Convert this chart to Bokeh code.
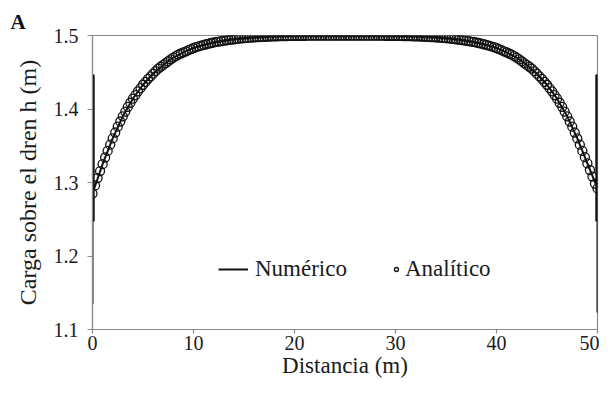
from bokeh.plotting import figure
from bokeh.models import Range1d, FixedTicker, Legend, LegendItem
from bokeh.embed import file_html
from bokeh.resources import INLINE
import numpy as np

# --- data ---
ana_x = list(np.arange(0, 50.001, 0.25))
ana_left = [1.2850, 1.2960, 1.3060, 1.3155, 1.3250, 1.3340, 1.3430, 1.3515, 1.3600, 1.3680,
            1.3760, 1.3830, 1.3900, 1.3965, 1.4030, 1.4085, 1.4140, 1.4190, 1.4240, 1.4285,
            1.4330, 1.4370, 1.4410, 1.4445, 1.4480, 1.4515, 1.4550, 1.4575, 1.4600, 1.4625,
            1.4650, 1.4675, 1.4700, 1.4720, 1.4740, 1.4755, 1.4770, 1.4785, 1.4800, 1.4815,
            1.4830, 1.4841, 1.4852, 1.4862, 1.4872, 1.4881, 1.4890, 1.4898, 1.4905, 1.4912,
            1.4918, 1.4924, 1.4930, 1.4935, 1.4940, 1.4945, 1.4949, 1.4953, 1.4957, 1.4961,
            1.4964, 1.4967, 1.4970, 1.4973, 1.4975, 1.4977, 1.4979, 1.4981, 1.4983, 1.4985,
            1.4986, 1.4988, 1.4989, 1.4990, 1.4991, 1.4992, 1.4993, 1.4993, 1.4994, 1.4994,
            1.4995, 1.4995, 1.4996, 1.4996, 1.4996, 1.4997, 1.4997, 1.4997, 1.4997, 1.4997,
            1.4998, 1.4998, 1.4998, 1.4998, 1.4998, 1.4998, 1.4998, 1.4998, 1.4998, 1.4998,
            1.4998]
ana_right = [1.4998, 1.4998, 1.4998, 1.4998, 1.4998, 1.4998, 1.4998, 1.4998, 1.4998, 1.4998,
             1.4997, 1.4997, 1.4997, 1.4997, 1.4997, 1.4996, 1.4996, 1.4996, 1.4995, 1.4995,
             1.4994, 1.4994, 1.4993, 1.4993, 1.4992, 1.4991, 1.4990, 1.4989, 1.4988, 1.4986,
             1.4985, 1.4983, 1.4981, 1.4979, 1.4977, 1.4975, 1.4973, 1.4970, 1.4967, 1.4964,
             1.4961, 1.4957, 1.4953, 1.4949, 1.4945, 1.4940, 1.4935, 1.4930, 1.4924, 1.4918,
             1.4912, 1.4905, 1.4898, 1.4890, 1.4881, 1.4872, 1.4862, 1.4852, 1.4841, 1.4830,
             1.4815, 1.4800, 1.4785, 1.4770, 1.4755, 1.4740, 1.4720, 1.4700, 1.4675, 1.4650,
             1.4625, 1.4600, 1.4575, 1.4550, 1.4515, 1.4480, 1.4445, 1.4410, 1.4370, 1.4330,
             1.4285, 1.4240, 1.4190, 1.4140, 1.4085, 1.4030, 1.3965, 1.3900, 1.3830, 1.3760,
             1.3680, 1.3600, 1.3515, 1.3430, 1.3345, 1.3260, 1.3170, 1.3080, 1.2985, 1.2920]
ana_y = ana_left + ana_right

num_x = [0.0, 0.0, 0.12, 0.12, 0.0,
         1, 2, 3, 4, 5, 6, 7, 8, 9, 10, 11, 12, 13, 14, 15, 16, 17, 18, 19, 20,
         21, 22, 23, 24, 25, 26, 27, 28, 29, 30, 31, 32, 33, 34, 35, 36, 37, 38, 39, 40,
         41, 42, 43, 44, 45, 46, 47, 48, 49,
         50.0, 49.88, 49.88, 50.0, 50.0]
num_y = [1.135, 1.446, 1.446, 1.247, 1.285,
         1.325, 1.360, 1.390, 1.414, 1.433, 1.448, 1.460, 1.470, 1.477, 1.483,
         1.4872, 1.4905, 1.4930, 1.4949, 1.4964, 1.4975, 1.4983, 1.4989, 1.4993, 1.4995,
         1.4996, 1.4997, 1.4998, 1.4998, 1.4998, 1.4998, 1.4998, 1.4997, 1.4996, 1.4995,
         1.4993, 1.4989, 1.4983, 1.4975, 1.4964, 1.4949, 1.4930, 1.4905, 1.4872, 1.483,
         1.477, 1.470, 1.460, 1.448, 1.433, 1.414, 1.390, 1.360, 1.326,
         1.292, 1.247, 1.446, 1.446, 1.123]

x_ticks = [0, 10, 20, 30, 40, 50]
y_ticks = [1.1, 1.2, 1.3, 1.4, 1.5]

SERIF = "Liberation Serif"
GRAY = "#8a8a8a"
INK = "#1a1a1a"

p = figure(width=599, height=384, output_backend="svg", toolbar_location=None,
           x_range=Range1d(0, 50), y_range=Range1d(1.1, 1.5),
           min_border_left=92, min_border_right=2, min_border_top=35, min_border_bottom=55,
           title="A")
p.background_fill_color = "white"
p.border_fill_color = "white"
p.outline_line_color = GRAY
p.outline_line_width = 1.2
p.grid.visible = False

p.title.text_font = SERIF
p.title.text_font_size = "21px"
p.title.text_font_style = "bold"
p.title.text_color = "#111111"
p.title.align = "left"
p.title.offset = -82
p.title.standoff = 3

p.axis.axis_line_color = GRAY
p.axis.axis_line_width = 1.2
p.axis.major_tick_line_color = GRAY
p.axis.major_tick_line_width = 1.2
p.axis.major_tick_in = 0
p.axis.minor_tick_line_color = None
p.axis.major_label_text_font = SERIF
p.axis.major_label_text_font_size = "20px"
p.axis.major_label_text_color = INK
p.axis.axis_label_text_font = SERIF
p.axis.axis_label_text_font_style = "normal"
p.axis.axis_label_text_color = INK

p.xaxis.ticker = FixedTicker(ticks=x_ticks)
p.yaxis.ticker = FixedTicker(ticks=y_ticks)
p.xaxis.major_tick_out = 4
p.xaxis.major_label_standoff = 2
p.xaxis.axis_label = "Distancia (m)"
p.xaxis.axis_label_text_font_size = "23px"
p.xaxis.axis_label_standoff = 0
p.yaxis.major_tick_out = 5
p.yaxis.major_label_standoff = 9
p.yaxis.axis_label = "Carga sobre el dren h (m)"
p.yaxis.axis_label_text_font_size = "24px"
p.yaxis.axis_label_standoff = 10

num = p.line(num_x, num_y, line_color="#111111", line_width=2)
ana = p.scatter(ana_x, ana_y, marker="circle", size=9, fill_color=None,
                line_color="#111111", line_width=1.3)

leg1 = Legend(items=[LegendItem(label="Numérico", renderers=[num])],
              location=(126, 47), orientation="horizontal",
              glyph_width=30, glyph_height=20, label_standoff=7, padding=0, margin=0,
              border_line_color=None, background_fill_alpha=0,
              label_text_font=SERIF, label_text_font_size="23px", label_text_color=INK)
leg2 = Legend(items=[LegendItem(label="Analítico", renderers=[ana])],
              location=(299, 47), orientation="horizontal",
              glyph_width=10, glyph_height=20, label_standoff=4, padding=0, margin=0,
              border_line_color=None, background_fill_alpha=0,
              label_text_font=SERIF, label_text_font_size="23px", label_text_color=INK)
p.add_layout(leg1)
p.add_layout(leg2)

open("out.html", "w").write(file_html(p, INLINE))
